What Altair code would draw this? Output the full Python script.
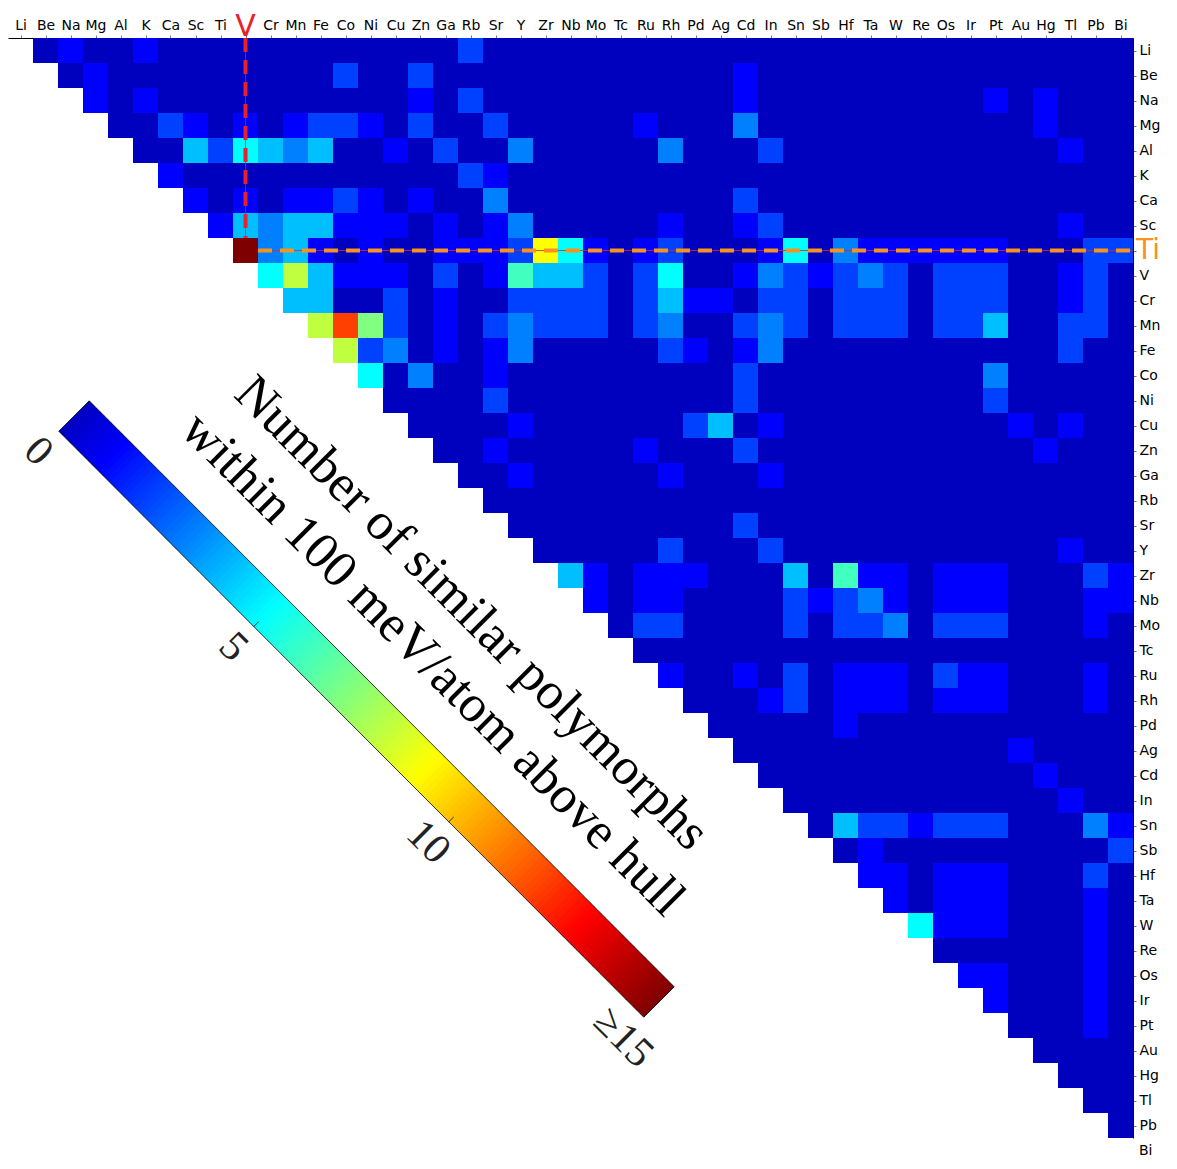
import math
import altair as alt
import pandas as pd

# ---------------- data ----------------
elements = ["Li", "Be", "Na", "Mg", "Al", "K", "Ca", "Sc", "Ti", "V", "Cr", "Mn", "Fe", "Co", "Ni",
            "Cu", "Zn", "Ga", "Rb", "Sr", "Y", "Zr", "Nb", "Mo", "Tc", "Ru", "Rh", "Pd", "Ag", "Cd",
            "In", "Sn", "Sb", "Hf", "Ta", "W", "Re", "Os", "Ir", "Pt", "Au", "Hg", "Tl", "Pb", "Bi"]

# tick labels (the highlighted V column / Ti row get big coloured labels instead)
x_tick_labels = [("" if e == "V" else e) for e in elements]
y_tick_labels = [("" if e == "Ti" else e) for e in elements]

# non-zero cells of the upper triangle: (row element, column element, count); all others are 0
nonzero_cells = [
    ("Li", "Na", 1), ("Li", "K", 1), ("Li", "Rb", 2),
    ("Be", "Mg", 1), ("Be", "Co", 2), ("Be", "Zn", 2), ("Be", "Cd", 1),
    ("Na", "Mg", 1), ("Na", "K", 1), ("Na", "Zn", 1), ("Na", "Rb", 2), ("Na", "Cd", 1), ("Na", "Pt", 1), ("Na", "Hg", 1),
    ("Mg", "Ca", 2), ("Mg", "Sc", 1), ("Mg", "V", 1), ("Mg", "Mn", 1), ("Mg", "Fe", 2), ("Mg", "Co", 2), ("Mg", "Ni", 1),
    ("Mg", "Zn", 2), ("Mg", "Sr", 2), ("Mg", "Ru", 1), ("Mg", "Cd", 3), ("Mg", "Hg", 1),
    ("Al", "Sc", 4), ("Al", "Ti", 2), ("Al", "V", 5), ("Al", "Cr", 4), ("Al", "Mn", 3), ("Al", "Fe", 4), ("Al", "Cu", 1),
    ("Al", "Ga", 2), ("Al", "Y", 3), ("Al", "Rh", 3), ("Al", "In", 2), ("Al", "Tl", 1),
    ("K", "Ca", 1), ("K", "Rb", 2), ("K", "Sr", 1),
    ("Ca", "Sc", 1), ("Ca", "V", 1), ("Ca", "Mn", 1), ("Ca", "Fe", 1), ("Ca", "Co", 2), ("Ca", "Ni", 1), ("Ca", "Zn", 1),
    ("Ca", "Sr", 3), ("Ca", "Cd", 2),
    ("Sc", "Ti", 1), ("Sc", "V", 4), ("Sc", "Cr", 3), ("Sc", "Mn", 4), ("Sc", "Fe", 4), ("Sc", "Co", 1), ("Sc", "Ni", 1),
    ("Sc", "Cu", 1), ("Sc", "Ga", 1), ("Sc", "Sr", 1), ("Sc", "Y", 3), ("Sc", "Rh", 1), ("Sc", "Cd", 1), ("Sc", "In", 2),
    ("Sc", "Tl", 1),
    ("Ti", "V", 15), ("Ti", "Cr", 3), ("Ti", "Mn", 4), ("Ti", "Fe", 1), ("Ti", "Ni", 1), ("Ti", "Ga", 1), ("Ti", "Rb", 1),
    ("Ti", "Sr", 1), ("Ti", "Y", 2), ("Ti", "Zr", 9), ("Ti", "Nb", 5), ("Ti", "Mo", 1), ("Ti", "Ru", 1), ("Ti", "Rh", 2),
    ("Ti", "In", 1), ("Ti", "Sn", 5), ("Ti", "Hf", 3), ("Ti", "Ta", 1), ("Ti", "W", 1), ("Ti", "Re", 1), ("Ti", "Os", 1),
    ("Ti", "Ir", 1), ("Ti", "Pt", 1), ("Ti", "Pb", 2), ("Ti", "Bi", 2),
    ("V", "Cr", 5), ("V", "Mn", 8), ("V", "Fe", 4), ("V", "Co", 1), ("V", "Ni", 1), ("V", "Cu", 1), ("V", "Ga", 2),
    ("V", "Sr", 1), ("V", "Y", 6), ("V", "Zr", 4), ("V", "Nb", 4), ("V", "Mo", 2), ("V", "Ru", 2), ("V", "Rh", 5),
    ("V", "Cd", 1), ("V", "In", 3), ("V", "Sn", 2), ("V", "Sb", 1), ("V", "Hf", 2), ("V", "Ta", 3), ("V", "W", 2),
    ("V", "Os", 2), ("V", "Ir", 2), ("V", "Pt", 2), ("V", "Tl", 1), ("V", "Pb", 2),
    ("Cr", "Mn", 4), ("Cr", "Fe", 4), ("Cr", "Cu", 2), ("Cr", "Ga", 1), ("Cr", "Y", 2), ("Cr", "Zr", 2), ("Cr", "Nb", 2),
    ("Cr", "Mo", 2), ("Cr", "Ru", 2), ("Cr", "Rh", 4), ("Cr", "Pd", 1), ("Cr", "Ag", 1), ("Cr", "In", 2), ("Cr", "Sn", 2),
    ("Cr", "Hf", 2), ("Cr", "Ta", 2), ("Cr", "W", 2), ("Cr", "Os", 2), ("Cr", "Ir", 2), ("Cr", "Pt", 2), ("Cr", "Tl", 1),
    ("Cr", "Pb", 2),
    ("Mn", "Fe", 8), ("Mn", "Co", 12), ("Mn", "Ni", 7), ("Mn", "Cu", 2), ("Mn", "Ga", 1), ("Mn", "Sr", 2), ("Mn", "Y", 3),
    ("Mn", "Zr", 2), ("Mn", "Nb", 2), ("Mn", "Mo", 2), ("Mn", "Ru", 2), ("Mn", "Rh", 3), ("Mn", "Cd", 2), ("Mn", "In", 3),
    ("Mn", "Sn", 2), ("Mn", "Hf", 2), ("Mn", "Ta", 2), ("Mn", "W", 2), ("Mn", "Os", 2), ("Mn", "Ir", 2), ("Mn", "Pt", 4),
    ("Mn", "Tl", 2), ("Mn", "Pb", 2),
    ("Fe", "Co", 8), ("Fe", "Ni", 2), ("Fe", "Cu", 3), ("Fe", "Ga", 1), ("Fe", "Sr", 1), ("Fe", "Y", 3), ("Fe", "Rh", 2),
    ("Fe", "Pd", 1), ("Fe", "Cd", 1), ("Fe", "In", 3), ("Fe", "Tl", 2),
    ("Co", "Ni", 5), ("Co", "Zn", 3), ("Co", "Sr", 1), ("Co", "Cd", 2), ("Co", "Pt", 3),
    ("Ni", "Sr", 2), ("Ni", "Cd", 2), ("Ni", "Pt", 2),
    ("Cu", "Y", 1), ("Cu", "Pd", 2), ("Cu", "Ag", 4), ("Cu", "In", 1), ("Cu", "Au", 1), ("Cu", "Tl", 1),
    ("Zn", "Sr", 1), ("Zn", "Ru", 1), ("Zn", "Cd", 2), ("Zn", "Hg", 1),
    ("Ga", "Y", 1), ("Ga", "Rh", 1), ("Ga", "In", 1),
    ("Sr", "Cd", 2),
    ("Y", "Rh", 2), ("Y", "In", 2), ("Y", "Tl", 1),
    ("Zr", "Nb", 4), ("Zr", "Mo", 1), ("Zr", "Ru", 1), ("Zr", "Rh", 1), ("Zr", "Pd", 1), ("Zr", "Sn", 4), ("Zr", "Hf", 6),
    ("Zr", "Ta", 1), ("Zr", "W", 1), ("Zr", "Os", 1), ("Zr", "Ir", 1), ("Zr", "Pt", 1), ("Zr", "Pb", 2), ("Zr", "Bi", 1),
    ("Nb", "Mo", 1), ("Nb", "Ru", 1), ("Nb", "Rh", 1), ("Nb", "Sn", 2), ("Nb", "Sb", 1), ("Nb", "Hf", 2), ("Nb", "Ta", 3),
    ("Nb", "W", 1), ("Nb", "Os", 1), ("Nb", "Ir", 1), ("Nb", "Pt", 1), ("Nb", "Pb", 1), ("Nb", "Bi", 1),
    ("Mo", "Ru", 2), ("Mo", "Rh", 2), ("Mo", "Sn", 2), ("Mo", "Hf", 2), ("Mo", "Ta", 2), ("Mo", "W", 3), ("Mo", "Os", 2),
    ("Mo", "Ir", 2), ("Mo", "Pt", 2), ("Mo", "Pb", 1),
    ("Ru", "Rh", 1), ("Ru", "Cd", 1), ("Ru", "Sn", 2), ("Ru", "Hf", 1), ("Ru", "Ta", 1), ("Ru", "W", 1), ("Ru", "Os", 2),
    ("Ru", "Ir", 1), ("Ru", "Pt", 1), ("Ru", "Pb", 1),
    ("Rh", "In", 1), ("Rh", "Sn", 2), ("Rh", "Hf", 1), ("Rh", "Ta", 1), ("Rh", "W", 1), ("Rh", "Os", 1), ("Rh", "Ir", 1),
    ("Rh", "Pt", 1), ("Rh", "Pb", 1),
    ("Pd", "Hf", 1),
    ("Ag", "Au", 1),
    ("Cd", "Hg", 1),
    ("In", "Tl", 1),
    ("Sn", "Hf", 4), ("Sn", "Ta", 2), ("Sn", "W", 2), ("Sn", "Re", 1), ("Sn", "Os", 2), ("Sn", "Ir", 2), ("Sn", "Pt", 2),
    ("Sn", "Pb", 3), ("Sn", "Bi", 1),
    ("Sb", "Ta", 1), ("Sb", "Bi", 2),
    ("Hf", "Ta", 1), ("Hf", "W", 1), ("Hf", "Os", 1), ("Hf", "Ir", 1), ("Hf", "Pt", 1), ("Hf", "Pb", 2),
    ("Ta", "W", 1), ("Ta", "Os", 1), ("Ta", "Ir", 1), ("Ta", "Pt", 1), ("Ta", "Pb", 1),
    ("W", "Re", 5), ("W", "Os", 1), ("W", "Ir", 1), ("W", "Pt", 1), ("W", "Pb", 1),
    ("Re", "Pb", 1),
    ("Os", "Ir", 1), ("Os", "Pt", 1), ("Os", "Pb", 1),
    ("Ir", "Pt", 1), ("Ir", "Pb", 1),
    ("Pt", "Pb", 1),
]

colorbar_ticks = [0, 5, 10, 15]
colorbar_tick_labels = ["0", "5", "10", "\u226515"]
colorbar_title = ["Number of similar polymorphs", "within 100 meV/atom above hull"]
highlight_col = "V"
highlight_row = "Ti"

# ---------------- layout ----------------
N = len(elements)
CELL = 25.0
W = N * CELL            # 1125
YMAX = N - 1            # last row (Bi) holds no cells; its label sits just below the frame
H = YMAX * CELL         # 1100
PAD_TOP = 30
PAD_BOTTOM = 21
OX, OY = 8.0, 8.0 + PAD_TOP   # page position of plot origin
LABEL_FONT = "DejaVu Sans"
LABEL_SIZE = 14


def dx(px):
    return (px - OX) / CELL


def dy(py):
    return (py - OY) / CELL


idx = {e: i for i, e in enumerate(elements)}
lookup = {(r, c): v for r, c, v in nonzero_cells}
rows = []
for i in range(N):
    for j in range(i + 1, N):
        rows.append(dict(x=j, x2=j + 1, y=i, y2=i + 1,
                         v=lookup.get((elements[i], elements[j]), 0)))
heat_df = pd.DataFrame(rows)

# jet colour map spanning -1 .. 15
cscale = alt.Scale(domain=[-1, 1, 5, 9, 13, 15],
                   range=["#00007f", "#0000ff", "#00ffff", "#ffff00", "#ff0000", "#7f0000"],
                   interpolate="rgb")
xs = alt.Scale(domain=[0, N], nice=False, zero=False)
ys = alt.Scale(domain=[0, YMAX], nice=False, zero=False, reverse=True)

xcenters = [i + 0.5 for i in range(N)]
ycenters = [i + 0.5 for i in range(YMAX)]
xexpr = "[" + ",".join("'%s'" % s for s in x_tick_labels) + "][floor(datum.value)]"
yexpr = "[" + ",".join("'%s'" % s for s in y_tick_labels) + "][floor(datum.value)]"

axis_common = dict(title=None, grid=False, labelOverlap=False, labelFlush=False,
                   labelFont=LABEL_FONT, labelFontSize=LABEL_SIZE, labelColor="black", labelPadding=3,
                   domainColor="black", domainWidth=1, tickSize=3, tickColor="#777", labelAngle=0)
XAXIS = alt.Axis(orient="top", values=xcenters, labelExpr=xexpr, **axis_common)
YAXIS = alt.Axis(orient="right", values=ycenters, labelExpr=yexpr, labelAlign="left", **axis_common)


def X(f):
    return alt.X(f, scale=xs, axis=XAXIS)


def Y(f):
    return alt.Y(f, scale=ys, axis=YAXIS)


heat = alt.Chart(heat_df).mark_rect(strokeWidth=0).encode(
    x=X("x:Q"), x2="x2:Q", y=Y("y:Q"), y2="y2:Q",
    color=alt.Color("v:Q", scale=cscale, legend=None),
)

# label of the last (empty) row, placed like the other right-hand labels
last_row = alt.Chart(pd.DataFrame([dict(x=N, y=YMAX + 0.5, t=y_tick_labels[-1])])).mark_text(
    font=LABEL_FONT, fontSize=LABEL_SIZE, color="black", align="left", baseline="middle", dx=6).encode(
    x=X("x:Q"), y=Y("y:Q"), text="t:N")

# ---------------- highlight lines ----------------
vc = idx[highlight_col] + 0.5
tr = idx[highlight_row]
vline_df = pd.DataFrame([dict(x=vc, y=0, y2=tr)])
hline_df = pd.DataFrame([dict(x=idx[highlight_col] + 1, x2=N, y=tr + 0.5)])
RED = "#e8212b"
ORANGE = "#f7931e"

vthin = alt.Chart(vline_df).mark_rule(color="#c0202a", strokeWidth=1, opacity=0.8).encode(
    x=X("x:Q"), y=Y("y:Q"), y2="y2:Q")
vdash = alt.Chart(vline_df).mark_rule(color=RED, strokeWidth=4, strokeDash=[14, 8]).encode(
    x=X("x:Q"), y=Y("y:Q"), y2="y2:Q")
hthin = alt.Chart(hline_df).mark_rule(color="#d02a2a", strokeWidth=1, opacity=0.8).encode(
    x=X("x:Q"), x2="x2:Q", y=Y("y:Q"))
hdash = alt.Chart(hline_df).mark_rule(color=ORANGE, strokeWidth=4, strokeDash=[14, 8]).encode(
    x=X("x:Q"), x2="x2:Q", y=Y("y:Q"))

vlabel = alt.Chart(pd.DataFrame([dict(x=vc, y=-0.08, t=highlight_col)])).mark_text(
    font=LABEL_FONT, fontSize=30, color=RED, align="center", baseline="alphabetic").encode(
    x=X("x:Q"), y=Y("y:Q"), text="t:N")
tlabel = alt.Chart(pd.DataFrame([dict(x=N, y=tr + 0.5, t=highlight_row)])).mark_text(
    font=LABEL_FONT, fontSize=28, color=ORANGE, align="left", baseline="middle", dx=3).encode(
    x=X("x:Q"), y=Y("y:Q"), text="t:N")

# ---------------- diagonal colour bar ----------------
P0 = (74.0, 416.0)
P1 = (659.0, 1002.0)
HALF = 21.5
L = math.hypot(P1[0] - P0[0], P1[1] - P0[1])
ux, uy = (P1[0] - P0[0]) / L, (P1[1] - P0[1]) / L
nx, ny = -uy, ux   # normal toward lower-left
VMAX = colorbar_ticks[-1]


def along(t, off=0.0):
    f = t / VMAX
    return (P0[0] + f * (P1[0] - P0[0]) + off * nx, P0[1] + f * (P1[1] - P0[1]) + off * ny)


NSEG = 160
seg = []
for k in range(NSEG):
    t0 = VMAX * k / NSEG
    t1 = VMAX * (k + 1) / NSEG
    a = along(t0)
    b = along(min(VMAX, t1 + 0.02))
    seg.append(dict(x=dx(a[0]), y=dy(a[1]), x2=dx(b[0]), y2=dy(b[1]), v=(t0 + t1) / 2))
bar = alt.Chart(pd.DataFrame(seg)).mark_rule(strokeWidth=2 * HALF, strokeCap="butt").encode(
    x=X("x:Q"), y=Y("y:Q"), x2="x2:Q", y2="y2:Q",
    color=alt.Color("v:Q", scale=cscale, legend=None))

c1, c2 = along(0, -HALF), along(VMAX, -HALF)
c3, c4 = along(VMAX, HALF), along(0, HALF)
edges = []
for p, q in [(c1, c2), (c2, c3), (c3, c4), (c4, c1)]:
    edges.append(dict(x=dx(p[0]), y=dy(p[1]), x2=dx(q[0]), y2=dy(q[1])))
for t in colorbar_ticks[1:-1]:
    p, q = along(t, HALF), along(t, HALF - 7)
    edges.append(dict(x=dx(p[0]), y=dy(p[1]), x2=dx(q[0]), y2=dy(q[1])))
outline = alt.Chart(pd.DataFrame(edges)).mark_rule(color="black", strokeWidth=0.8).encode(
    x=X("x:Q"), y=Y("y:Q"), x2="x2:Q", y2="y2:Q")

tl = []
for t, s in zip(colorbar_ticks, colorbar_tick_labels):
    p = along(t, 50)
    tl.append(dict(x=dx(p[0]), y=dy(p[1]), t=s))
ticklabels = alt.Chart(pd.DataFrame(tl)).mark_text(
    font="Liberation Serif", fontSize=42, color="#222", angle=45, align="center",
    baseline="middle").encode(x=X("x:Q"), y=Y("y:Q"), text="t:N")

title_pos = [(472.0, 613.0), (433.0, 664.0)]
tt = [dict(x=dx(p[0]), y=dy(p[1]), t=s) for p, s in zip(title_pos, colorbar_title)]
title = alt.Chart(pd.DataFrame(tt)).mark_text(
    font="Liberation Serif", fontSize=52, color="black", angle=45, align="center",
    baseline="middle").encode(x=X("x:Q"), y=Y("y:Q"), text="t:N")

chart = alt.layer(heat, last_row, vthin, vdash, hthin, hdash, vlabel, tlabel, bar, outline,
                  ticklabels, title).properties(
    width=W, height=H,
    autosize=alt.AutoSizeParams(type="none"),
    padding={"left": 0, "top": PAD_TOP, "right": 34, "bottom": PAD_BOTTOM},
).configure_view(stroke=None)

chart.save("out.html", embed_options={"renderer": "svg", "actions": False})
